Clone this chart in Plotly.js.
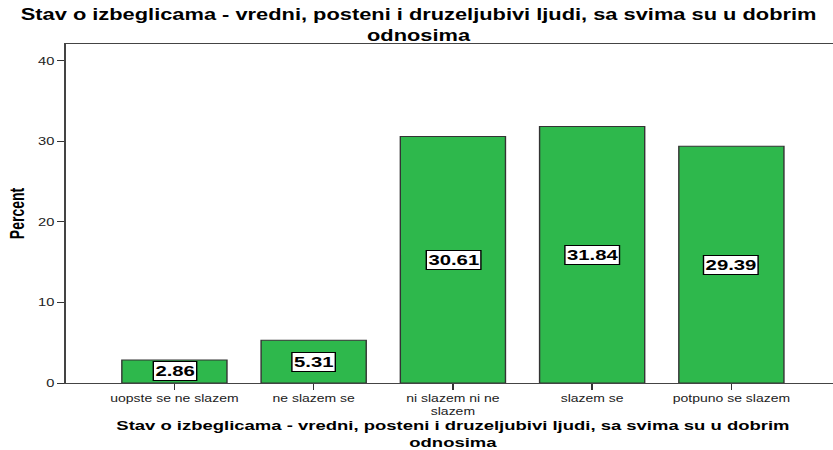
<!DOCTYPE html>
<html>
<head>
<meta charset="utf-8">
<script src="https://cdn.plot.ly/plotly-3.0.1.min.js"></script>
<style>
html, body { margin:0; padding:0; overflow:hidden; background:#fff; width:833px; height:450px; }
/* the reference picture is stretched horizontally; reproduce that stretch */
#chart { width:604px; height:450px; transform: scaleX(1.4); transform-origin: 0 0; }
</style>
</head>
<body>
<div id="chart"></div>
<script>
var categories = ["uopste se ne slazem", "ne slazem se", "ni slazem ni ne<br>slazem", "slazem se", "potpuno se slazem"];
var percents = [2.86, 5.31, 30.61, 31.84, 29.39];
var valueLabels = ["2.86", "5.31", "30.61", "31.84", "29.39"];
var chartTitle = "Stav o izbeglicama - vredni, posteni i druzeljubivi ljudi, sa svima su u dobrim<br>odnosima";
var yTitle = "Percent";
var yTicks = [0, 10, 20, 30, 40];

var xIdx = categories.map(function(_, i){ return i; });

var trace = {
  type: "bar",
  x: xIdx,
  y: percents,
  width: 0.755,
  marker: { color: "#2eb84c", line: { color: "#333333", width: 1 } },
  hoverinfo: "skip"
};

var annotations = percents.map(function(v, i){
  return {
    x: i, y: v / 2, xref: "x", yref: "y",
    text: valueLabels[i], showarrow: false,
    font: { family: "Liberation Sans", size: 14.5, color: "#000", weight: "bold" },
    bgcolor: "#ffffff", bordercolor: "#000000", borderwidth: 1, borderpad: 1
  };
});

var layout = {
  width: 604, height: 450,
  margin: { l: 47, r: 4, t: 44, b: 67 },
  paper_bgcolor: "#fff", plot_bgcolor: "#fff",
  showlegend: false,
  title: {
    text: chartTitle,
    font: { family: "Liberation Sans", size: 15.6, color: "#000", weight: "bold" },
    xref: "container", x: 299 / 604, xanchor: "center",
    yref: "container", y: 0.955, yanchor: "top"
  },
  xaxis: {
    range: [-0.78, 4.78],
    tickmode: "array", tickvals: xIdx, ticktext: categories,
    ticks: "outside", ticklen: 6, tickcolor: "#333", tickwidth: 1,
    showline: true, linecolor: "#444", linewidth: 1, mirror: true,
    showgrid: false, zeroline: false,
    tickfont: { family: "Liberation Sans", size: 10, color: "#222" },
    title: {
      text: chartTitle,
      font: { family: "Liberation Sans", size: 13.2, color: "#000", weight: "bold" },
      standoff: 4
    }
  },
  yaxis: {
    range: [0, 42.1],
    tickmode: "array", tickvals: yTicks,
    ticks: "outside", ticklen: 5, tickcolor: "#333", tickwidth: 1,
    showline: true, linecolor: "#444", linewidth: 1, mirror: true,
    showgrid: false, zeroline: false,
    tickfont: { family: "Liberation Sans", size: 10.5, color: "#222" },
    title: {
      text: yTitle,
      font: { family: "Liberation Sans", size: 14, color: "#000", weight: "bold" },
      standoff: 6
    }
  },
  annotations: annotations
};

Plotly.newPlot("chart", [trace], layout, { staticPlot: true, displayModeBar: false });
</script>
</body>
</html>
